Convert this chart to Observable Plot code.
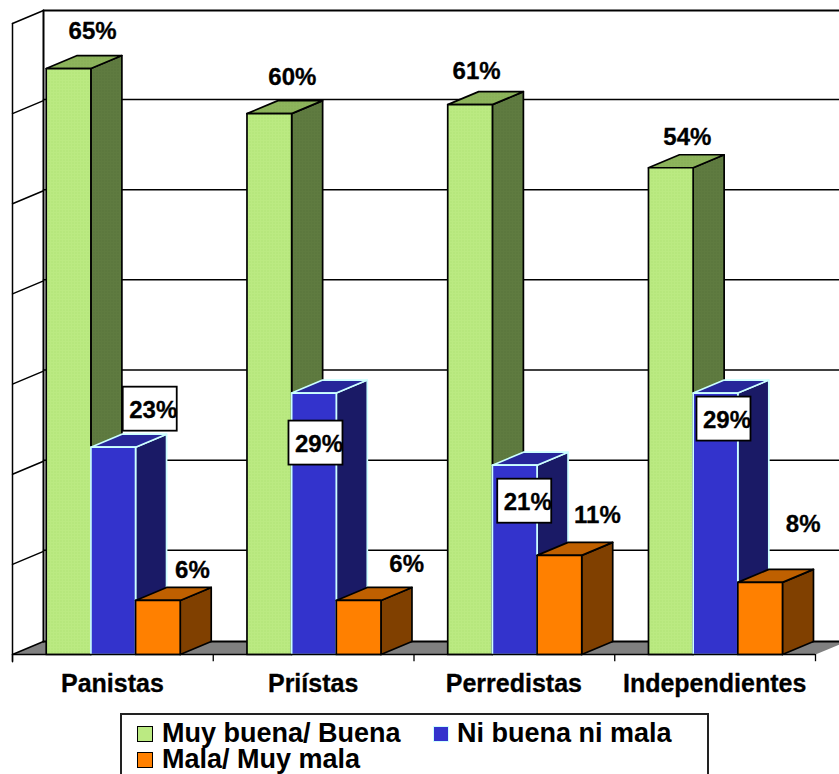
<!DOCTYPE html>
<html>
<head>
<meta charset="utf-8">
<script src="https://cdn.jsdelivr.net/npm/d3@7"></script>
<script src="https://cdn.jsdelivr.net/npm/@observablehq/plot@0.6"></script>
<style>
  html, body { margin: 0; padding: 0; background: #fff; overflow: hidden; height: 774px; }
  #chart svg { display: block; }
  #legend { position: relative; box-sizing: border-box; margin: 1px 0 0 120px; width: 589px; height: 70px;
            border: 2px solid #222; background: #fff; font: bold 27px "Liberation Sans", Arial, sans-serif; color: #000; }
  #legend .item { position: absolute; white-space: nowrap; line-height: 26px; }
  #legend .swatch { position: absolute; box-sizing: border-box; }
</style>
</head>
<body>
<div id="chart"></div>
<div id="legend"></div>
<script>
// ---- Data ----
const categories = ["Panistas", "Priístas", "Perredistas", "Independientes"];
const seriesNames = ["Muy buena/ Buena", "Ni buena ni mala", "Mala/ Muy mala"];
const muyBuena = [65, 60, 61, 54];
const niBuena = [23, 29, 21, 29];
const mala = [6, 6, 11, 8];
const gridValues = [0, 10, 20, 30, 40, 50, 60, 70];

// ---- Styles ----
const faces = [
  {front: "url(#dotsFront)", top: "url(#dotsTop)", side: "url(#dotsSide)", stroke: "#000"},
  {front: "#3333CC", top: "#26269A", side: "#1A1A66", stroke: "#CCFFFF"},
  {front: "#FF8000", top: "#BF6000", side: "#804000", stroke: "#000"}
];
// label nudges in pixels from the bar's front-top centre: [dx, dy]
const nudges = [
  [[24, -37], [23, -36], [6.5, -33], [16.5, -30]],
  [[40, -37], [5, 51], [13, 37], [11.5, 27]],
  [[34.5, -30], [48, -36], [38, -40], [43, -58]]
];
const boxed = [[], [0, 1, 2, 3], []];
const fontFamily = "Liberation Sans, Arial, sans-serif";

// ---- Geometry in scale units ----
const groupPad = 0.168, barW = 0.2225, depthX = 0.1544, depthY = 1.442, gridDepthY = 1.56;

function poly(points, fill, stroke, strokeWidth) {
  return Plot.line(points, {x: "0", y: "1", fill, stroke, strokeWidth, strokeLinejoin: "round", curve: "linear"});
}
function bar(c, s, v) {
  const x0 = c + groupPad + s * barW, x1 = x0 + barW, f = faces[s], sw = 1.7;
  return [
    poly([[x1, 0], [x1 + depthX, depthY], [x1 + depthX, v + depthY], [x1, v], [x1, 0]], f.side, f.stroke, sw),
    poly([[x0, v], [x0 + depthX, v + depthY], [x1 + depthX, v + depthY], [x1, v], [x0, v]], f.top, f.stroke, sw),
    poly([[x0, 0], [x0, v], [x1, v], [x1, 0], [x0, 0]], f.front, f.stroke, sw)
  ];
}
const values = [muyBuena, niBuena, mala];
const barMarks = categories.flatMap((_, c) => values.flatMap((vals, s) => bar(c, s, vals[c])));

const labelMarks = values.flatMap((vals, s) => vals.flatMap((v, c) => {
  const cx = c + groupPad + (s + 0.5) * barW, [dx, dy] = nudges[s][c], out = [];
  if (boxed[s].includes(c)) {
    out.push(Plot.rect([v], {x1: () => cx, x2: () => cx, y1: d => d, y2: d => d, dx: dx - 3, dy: dy - 1,
      insetLeft: -27, insetRight: -27, insetTop: -22, insetBottom: -22, fill: "#fff", stroke: "#000", strokeWidth: 1.8}));
  }
  out.push(Plot.text([v], {x: () => cx, y: d => d, text: d => d + "%", dx, dy, fontSize: 24, fontWeight: "bold",
    fontFamily, fill: "#000", stroke: "#000", strokeWidth: 0.3, textAnchor: "middle"}));
  return out;
}));

// SVG patterns for the dotted green faces
function patterns() {
  const defs = d3.create("svg:g");
  const d = defs.append("defs");
  [["dotsFront", "#BBEA82", "#A9DF6C"], ["dotsTop", "#8DB45C", "#7FA850"], ["dotsSide", "#5F7B40", "#546F37"]].forEach(([id, bg, dot]) => {
    const p = d.append("pattern").attr("id", id).attr("patternUnits", "userSpaceOnUse").attr("width", 3).attr("height", 3);
    p.append("rect").attr("width", 3).attr("height", 3).attr("fill", bg);
    p.append("rect").attr("width", 1).attr("height", 1).attr("fill", dot);
  });
  return defs.node();
}

const chart = Plot.plot({
  width: 839,
  height: 712,
  margin: 0,
  x: {domain: [0, 4], range: [12, 815], axis: null},
  y: {domain: [0, 70], range: [654, 23], axis: null},
  style: {background: "#fff", overflow: "hidden"},
  marks: [
    patterns,
    // floor
    poly([[0, 0], [depthX, depthY], [4 + depthX, depthY], [4, 0], [0, 0]], "#808080", "none", 0),
    // back wall gridlines
    ...gridValues.map(g => {
      const edge = g === 70 || g === 0, back = g + (edge ? depthY : gridDepthY);
      return poly([[depthX, back], [4 + depthX, back]], "none", "#000", edge ? 2.2 : 1.5);
    }),
    // side wall gridlines
    ...gridValues.map(g => poly([[0, g], [depthX, g + depthY]], "none", "#000", 1.5)),
    // wall verticals
    poly([[depthX, 0 + depthY], [depthX, 70 + depthY]], "none", "#000", 2),
    poly([[0, -0.8], [0, 70]], "none", "#000", 1.5),
    // bars
    ...barMarks,
    // category axis
    Plot.ruleY([0], {x1: 0, x2: 4, stroke: "#000", strokeWidth: 1.7}),
    Plot.ruleX([0, 1, 2, 3, 4], {x: d => d, y1: 0, y2: -0.8, stroke: "#000", strokeWidth: 1.3}),
    Plot.text(categories, {x: (d, i) => i + 0.5, y: () => 0, dy: 29, dx: -0.5, text: d => d, fontSize: 25, fontWeight: "bold",
      fontFamily, fill: "#000", stroke: "#000", strokeWidth: 0.3, textAnchor: "middle"}),
    ...labelMarks
  ]
});
document.getElementById("chart").appendChild(chart);

// ---- Legend ----
const legend = d3.select("#legend");
const legendSwatches = ["#BBEA82", faces[1].front, faces[2].front];
const legendLayout = [
  {tx: 40, ty: 5, sx: 15, sy: 11},
  {tx: 335, ty: 5, sx: 311, sy: 11},
  {tx: 40, ty: 31, sx: 15, sy: 37}
];
seriesNames.forEach((name, i) => {
  const l = legendLayout[i];
  legend.append("div").attr("class", "swatch")
    .style("left", l.sx + "px").style("top", l.sy + "px")
    .style("width", "16px").style("height", "16px")
    .style("background", legendSwatches[i])
    .style("border", i === 1 ? "1px solid #CCFFFF" : "1.5px solid #000");
  legend.append("div").attr("class", "item")
    .style("left", l.tx + "px").style("top", l.ty + "px").text(name);
});
</script>
</body>
</html>
